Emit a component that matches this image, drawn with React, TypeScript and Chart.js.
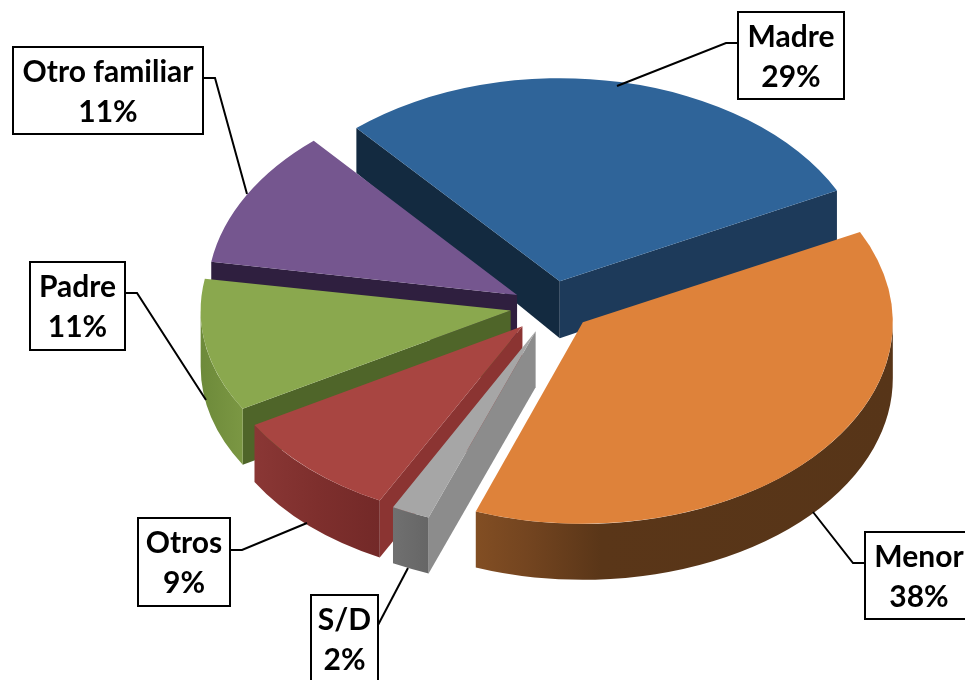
import React, { useEffect, useRef } from "react";
import { Chart, registerables } from "chart.js";

Chart.register(...registerables);

// ---- data ----
const categories = ["Madre", "Menor", "S/D", "Otros", "Padre", "Otro familiar"];
const percentages = [29, 38, 2, 9, 11, 11];

// ---- styles ----
const topColors = ["#2f6499", "#de823a", "#a6a6a6", "#a84541", "#8aa84e", "#75568f"];
const startFaceColors = ["#132a40", "#5a3618", "#8c8c8c", "#8b3432", "#4f6529", "#2f1f3f"];
const endFaceColors = ["#1d3a5a", "#5a3618", "#6b6b6b", "#7a2c2a", "#4f6529", "#2f1f3f"];
const wallStops: [number, string][][] = [
  [[0, "#1d3a5a"], [1, "#1d3a5a"]],
  [[0, "#824e23"], [0.12, "#744520"], [0.3, "#5a3618"], [1, "#573518"]],
  [[0, "#707070"], [1, "#666666"]],
  [[0, "#8a3735"], [0.5, "#7e2f2d"], [1, "#732928"]],
  [[0, "#6d8a3a"], [1, "#7b9743"]],
  [[0, "#5c4470"], [1, "#5c4470"]],
];
const drawOrder = [0, 5, 4, 3, 2, 1];
const explode = [40, 40, 43, 40, 40, 40];
// the reference has a slight perspective: nearer slices are flatter, farther edges shorter
const tilts = [0.655, 0.65, 0.64, 0.633, 0.63, 0.66];
const nudgeX = [0, 1, 1, -2, -2, 0];
const nudgeY = [-2, -4, -3, -1, -3, -1];
const depths = [57, 56, 56, 57, 56, 56];
const startCornerDepths = [45, 56, 56, 57, 56, 50];
const endCornerDepths = [54, 56, 56, 57, 56, 56];
const RADIUS = 310;

// callout boxes: left, top, right, bottom; leader polyline
const boxes = [
  [738, 12, 844, 99],
  [865, 532, 973, 619],
  [311, 595, 378, 684],
  [138, 518, 230, 606],
  [30, 262, 125, 350],
  [13, 47, 203, 134],
];
const leaders = [
  [[738, 43], [726, 43], [617, 86]],
  [[865, 563], [853, 563], [813, 512]],
  [[378, 625], [408, 568]],
  [[230, 550], [242, 550], [307, 523]],
  [[125, 293], [137, 293], [206, 400]],
  [[203, 78], [215, 78], [247, 194]],
];
const FONT = 'bold 30px Lato, "Open Sans", sans-serif';

const pie3d = {
  id: "pie3d",
  beforeDatasetDraw(chart: any, args: any) {
    const ctx: CanvasRenderingContext2D = chart.ctx;
    const arcs = args.meta.data;
    for (const i of drawOrder) {
      const arc = arcs[i];
      const { x, y, startAngle, endAngle, outerRadius: r } = arc;
      const k = tilts[i];
      const depth = depths[i];
      const mid = (startAngle + endAngle) / 2;
      const ex = Math.cos(mid) * explode[i];
      const ey = Math.sin(mid) * explode[i];
      const ax = x + nudgeX[i] + ex;
      const ay = y + nudgeY[i] + ey * k;
      const sx = ax + r * Math.cos(startAngle);
      const sy = ay + r * Math.sin(startAngle) * k;
      const tx = ax + r * Math.cos(endAngle);
      const ty = ay + r * Math.sin(endAngle) * k;

      const quad = (px: number, py: number, cornerDepth: number, color: string) => {
        ctx.beginPath();
        ctx.moveTo(ax, ay);
        ctx.lineTo(px, py);
        ctx.lineTo(px, py + cornerDepth);
        ctx.lineTo(ax, ay + depth);
        ctx.closePath();
        ctx.fillStyle = color;
        ctx.fill();
      };
      // only the faces turned towards the viewer
      if (Math.cos(startAngle) < 0) quad(sx, sy, startCornerDepths[i], startFaceColors[i]);
      if (Math.cos(endAngle) > 0) quad(tx, ty, endCornerDepths[i], endFaceColors[i]);

      // outer wall: only the near half of the rim
      const lo = Math.max(startAngle, 0);
      const hi = Math.min(endAngle, Math.PI);
      if (lo < hi) {
        let minX = Infinity;
        let maxX = -Infinity;
        for (let n = 0; n <= 60; n++) {
          const px = ax + r * Math.cos(lo + ((hi - lo) * n) / 60);
          minX = Math.min(minX, px);
          maxX = Math.max(maxX, px);
        }
        const grad = ctx.createLinearGradient(minX, 0, maxX, 0);
        wallStops[i].forEach(([p, c]) => grad.addColorStop(p, c));
        ctx.beginPath();
        ctx.ellipse(ax, ay, r, r * k, 0, lo, hi, false);
        ctx.ellipse(ax, ay + depth, r, r * k, 0, hi, lo, true);
        ctx.closePath();
        ctx.fillStyle = grad;
        ctx.fill();
      }

      // top surface: the library's own arc element, tilted and pulled out
      ctx.save();
      ctx.translate(nudgeX[i], y + nudgeY[i]);
      ctx.scale(1, k);
      ctx.translate(0, -y);
      ctx.translate(ex, ey);
      arc.draw(ctx);
      ctx.restore();
    }
    return false;
  },
  afterDraw(chart: any) {
    const ctx: CanvasRenderingContext2D = chart.ctx;
    ctx.save();
    ctx.strokeStyle = "#000000";
    ctx.lineWidth = 2;
    leaders.forEach((pts) => {
      ctx.beginPath();
      pts.forEach(([px, py], n) => (n ? ctx.lineTo(px, py) : ctx.moveTo(px, py)));
      ctx.stroke();
    });
    ctx.font = FONT;
    ctx.textAlign = "center";
    ctx.textBaseline = "alphabetic";
    boxes.forEach(([l, t, rt, b], i) => {
      ctx.fillStyle = "#ffffff";
      ctx.fillRect(l, t, rt - l, b - t);
      ctx.strokeRect(l, t, rt - l, b - t);
      ctx.fillStyle = "#000000";
      const cx = (l + rt) / 2;
      ctx.fillText(categories[i], cx, t + 35);
      ctx.fillText(`${percentages[i]}%`, cx, t + 75);
    });
    ctx.restore();
  },
};

export default function App() {
  const ref = useRef<HTMLCanvasElement>(null);
  useEffect(() => {
    const chart = new Chart(ref.current as HTMLCanvasElement, {
      type: "pie",
      data: {
        labels: categories,
        datasets: [
          {
            data: percentages,
            backgroundColor: topColors,
            borderWidth: 0,
          },
        ],
      },
      options: {
        responsive: false,
        animation: false,
        rotation: -41,
        radius: RADIUS,
        layout: { padding: { left: 139, bottom: 62 } },
        plugins: { legend: { display: false }, tooltip: { enabled: false } },
      },
      plugins: [pie3d],
    } as any);
    return () => chart.destroy();
  }, []);
  return (
    <div style={{ position: "absolute", left: 0, top: 0, width: 965, height: 680, background: "#fff", overflow: "hidden" }}>
      <canvas ref={ref} width={965} height={680} style={{ display: "block" }} />
    </div>
  );
}
